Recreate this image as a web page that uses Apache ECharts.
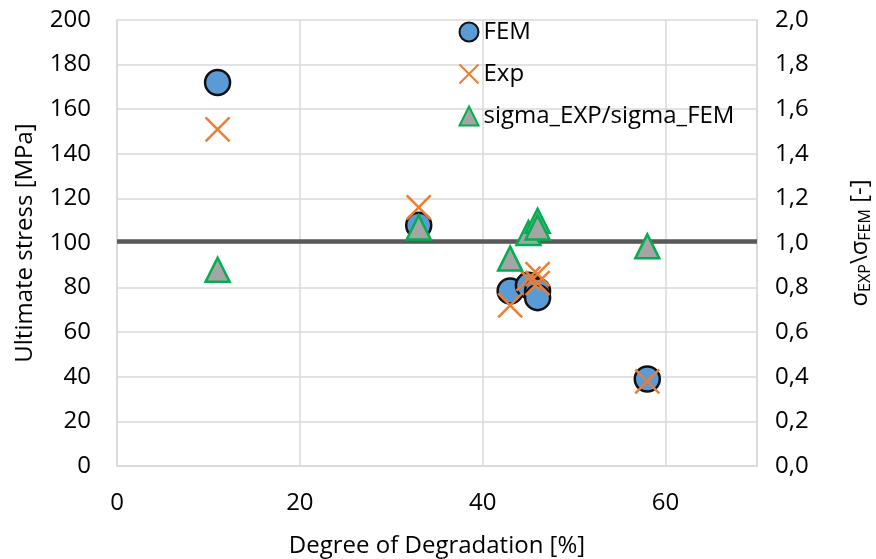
<!DOCTYPE html>
<html>
<head>
<meta charset="utf-8">
<script src="https://cdn.jsdelivr.net/npm/echarts@6/dist/echarts.min.js"></script>
<style>
  html, body { margin: 0; padding: 0; background: #fff; }
  #chart { width: 876px; height: 559px; }
</style>
</head>
<body>
<div id="chart"></div>
<script>
// Degree of degradation [%] for each specimen
const degradation = [11, 33, 43, 45, 46, 46, 58];
// Ultimate stress from the finite element model [MPa]
const femStress = [172, 108, 78.5, 81, 78.5, 75.5, 39];
// Ultimate stress from the experiments [MPa]
const expStress = [151, 116, 72, 84, 86, 82, 38];
// Ratio sigma_EXP / sigma_FEM [-]
const stressRatio = [0.88, 1.07, 0.93, 1.045, 1.10, 1.07, 0.985];
// Reference level drawn across the ratio axis
const ratioReference = 1.01;

const FONT = 'Open Sans';
const FS = 24;
const pairs = (xs, ys) => xs.map((x, i) => [x, ys[i]]);

const chart = echarts.init(document.getElementById('chart'), null, { renderer: 'canvas' });

chart.setOption({
  backgroundColor: '#ffffff',
  animation: false,
  textStyle: { fontFamily: FONT, color: '#000' },
  grid: { left: 117, right: 119, top: 20, bottom: 93, containLabel: false, outerBoundsMode: 'none' },
  legend: {
    orient: 'vertical',
    left: 452,
    top: 15,
    itemGap: 18,
    itemWidth: 19,
    itemHeight: 19,
    textStyle: { fontFamily: FONT, fontSize: 24, color: '#000', padding: [0, 0, 0, 0] },
    data: ['FEM', 'Exp', 'sigma_EXP/sigma_FEM']
  },
  xAxis: {
    type: 'value',
    min: 0,
    max: 70,
    interval: 20,
    name: 'Degree of Degradation [%]',
    nameLocation: 'middle',
    nameGap: 68,
    nameTextStyle: { fontFamily: FONT, fontSize: FS, color: '#000' },
    axisLine: { show: true, lineStyle: { color: '#D9D9D9', width: 1.5 } },
    axisTick: { show: false },
    axisLabel: { margin: 25, fontFamily: FONT, fontSize: FS, color: '#000', showMaxLabel: false },
    splitLine: { show: true, lineStyle: { color: '#D9D9D9', width: 1.5 } }
  },
  yAxis: [
    {
      type: 'value',
      min: 0,
      max: 200,
      interval: 20,
      name: 'Ultimate stress [MPa]',
      nameLocation: 'middle',
      nameGap: 80,
      nameTextStyle: { fontFamily: FONT, fontSize: FS, color: '#000' },
      axisLine: { show: true, lineStyle: { color: '#D9D9D9', width: 1.5 } },
      axisTick: { show: false },
      axisLabel: { margin: 26, fontFamily: FONT, fontSize: FS, color: '#000' },
      splitLine: { show: true, lineStyle: { color: '#D9D9D9', width: 1.5 } }
    },
    {
      type: 'value',
      min: 0,
      max: 2,
      interval: 0.2,
      position: 'right',
      name: '{s|σ}{sub|EXP}{s|\\σ}{sub|FEM}{s| [-]}',
      nameLocation: 'middle',
      nameGap: 90,
      nameTextStyle: {
        rich: {
          s: { fontFamily: FONT, fontSize: FS, color: '#000' },
          sub: { fontFamily: FONT, fontSize: 16, color: '#000', verticalAlign: 'bottom', padding: [10, 0, 0, 0] }
        }
      },
      axisLine: { show: true, lineStyle: { color: '#D9D9D9', width: 1.5 } },
      axisTick: { show: false },
      axisLabel: {
        margin: 18,
        fontFamily: FONT,
        fontSize: FS,
        color: '#000',
        formatter: v => v.toFixed(1).replace('.', ',')
      },
      splitLine: { show: false }
    }
  ],
  series: [
    {
      name: 'FEM',
      type: 'scatter',
      yAxisIndex: 0,
      symbol: 'circle',
      symbolSize: 25,
      itemStyle: { color: '#5B9BD5', borderColor: '#111111', borderWidth: 2.5, opacity: 1 },
      data: pairs(degradation, femStress),
      z: 2
    },
    {
      name: 'Exp',
      type: 'scatter',
      yAxisIndex: 0,
      symbol: 'path://M0,0L10,10M10,0L0,10',
      symbolSize: 24,
      itemStyle: { color: 'none', borderColor: '#ED7D31', borderWidth: 2.5, opacity: 1 },
      data: pairs(degradation, expStress),
      z: 3
    },
    {
      name: 'sigma_EXP/sigma_FEM',
      type: 'scatter',
      yAxisIndex: 1,
      symbol: 'triangle',
      symbolSize: 24,
      itemStyle: { color: '#A5A5A5', borderColor: '#00B050', borderWidth: 2.5, opacity: 1 },
      data: pairs(degradation, stressRatio),
      markLine: {
        silent: true,
        symbol: ['none', 'none'],
        label: { show: false },
        lineStyle: { color: '#595959', width: 4.5, type: 'solid' },
        data: [{ yAxis: ratioReference }],
        z: 1
      },
      z: 4
    }
  ]
});
</script>
</body>
</html>
